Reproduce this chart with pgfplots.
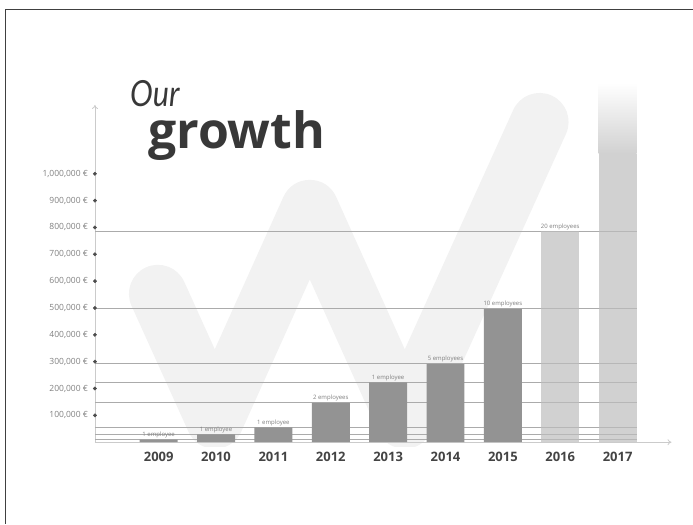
\documentclass[border=0pt]{standalone}
\usepackage{fontspec}
\setmainfont{Open Sans}
\newfontfamily\ourfont{Lato}
\usepackage{pgfplots}
\pgfplotsset{compat=1.18}
\usetikzlibrary{arrows.meta}

\definecolor{wbg}{HTML}{F2F2F2}
\definecolor{bardark}{HTML}{939393}
\definecolor{barlight}{HTML}{BDBDBD}
\definecolor{barfade}{HTML}{D1D1D1}
\definecolor{hline}{HTML}{ABABAB}
\definecolor{axgray}{HTML}{CBCBCB}
\definecolor{ticktext}{HTML}{7F7F7F}
\definecolor{yeartext}{HTML}{444444}
\definecolor{titletext}{HTML}{383838}

\begin{document}
\begin{tikzpicture}
\begin{scope}[x=1pt,y=1pt]
\path (0,0) rectangle (693,-524);
% frame
\draw[black!75, line width=1pt] (5.5,-524) -- (5.5,-10) -- (693,-10);
% background check mark
\begin{scope}
\clip (0,0) rectangle (693,-447);
\draw[wbg, line width=58pt, line cap=round, line join=round]
  (158,-294) -- (215,-420) -- (310,-209) -- (405,-420) -- (540,-122);
\end{scope}
% title
\node[anchor=base west, inner sep=0, text=titletext,
      font=\fontsize{50}{50}\selectfont\bfseries] at (148,-149) {growth};
\node[anchor=base west, inner sep=0, text=titletext,
      font=\ourfont\itshape\fontsize{36}{36}\selectfont] at (130,-107) {\scalebox{0.85}[1]{Our}};
\end{scope}

\begin{axis}[
 at={(95pt,-442.5pt)}, anchor=south west,
 scale only axis, width=577pt, height=337.5pt,
 xmin=-1.111, xmax=8.94, ymin=0, ymax=1256500,
 clip=false,
 axis x line=bottom, axis y line=left,
 axis line style={axgray, line width=0.8pt, -{To[length=4pt,width=6pt]}},
 major tick length=0pt, tick style={draw=none},
 scaled y ticks=false,
 ytick={100000,200000,300000,400000,500000,600000,700000,800000,900000,1000000},
 yticklabels={{100,000 €},{200,000 €},{300,000 €},{400,000 €},{500,000 €},
              {600,000 €},{700,000 €},{800,000 €},{900,000 €},{1,000,000 €}},
 yticklabel style={font=\fontsize{8.5}{10}\selectfont, text=ticktext, xshift=-3.5pt},
 xtick={0,1,2,3,4,5,6,7,8},
 xticklabels={2009,2010,2011,2012,2013,2014,2015,2016,2017},
 xticklabel style={font=\fontsize{13}{13}\selectfont\bfseries, text=yeartext, yshift=-6pt},
]
% lines at each year's level
\pgfplotsinvokeforeach{10000,29000,55000,146000,223000,292000,497000,785000}{
  \addplot[hline, line width=1pt, forget plot] coordinates {(-1.111,#1) (8.331,#1)};
}
% tick dots
\addplot[only marks, mark=*, mark size=1.7pt, black!70] coordinates {
 (-1.111,100000) (-1.111,200000) (-1.111,300000) (-1.111,400000) (-1.111,500000)
 (-1.111,600000) (-1.111,700000) (-1.111,800000) (-1.111,900000) (-1.111,1000000)};
% past years
\addplot[ybar, bar width=0.662, bar shift=0pt, fill=bardark, draw=none,
 nodes near coords, point meta=explicit symbolic,
 every node near coord/.style={font=\fontsize{6}{6}\selectfont, text=ticktext, anchor=south, inner sep=1.5pt}]
 coordinates {
 (0,10000) [1 employee]
 (1,29000) [1 employee]
 (2,55000) [1 employee]
 (3,146000) [2 employees]
 (4,223000) [1 employee]
 (5,292000) [5 employees]
 (6,497000) [10 employees]
};
% projections
\addplot[ybar, bar width=0.662, bar shift=0pt, fill=barlight, fill opacity=0.7, draw=none,
 nodes near coords, point meta=explicit symbolic,
 every node near coord/.style={font=\fontsize{6}{6}\selectfont, text=ticktext, text opacity=1, anchor=south, inner sep=1.5pt}]
 coordinates {(7,785000) [20 employees]};
\addplot[ybar, bar width=0.662, bar shift=0pt, fill=barlight, fill opacity=0.7, draw=none]
 coordinates {(8,1075000)};
\addplot[draw=none, top color=white, bottom color=barfade]
 coordinates {(7.669,1075000) (8.331,1075000) (8.331,1338000) (7.669,1338000)} -- cycle;
\end{axis}
\end{tikzpicture}
\end{document}
